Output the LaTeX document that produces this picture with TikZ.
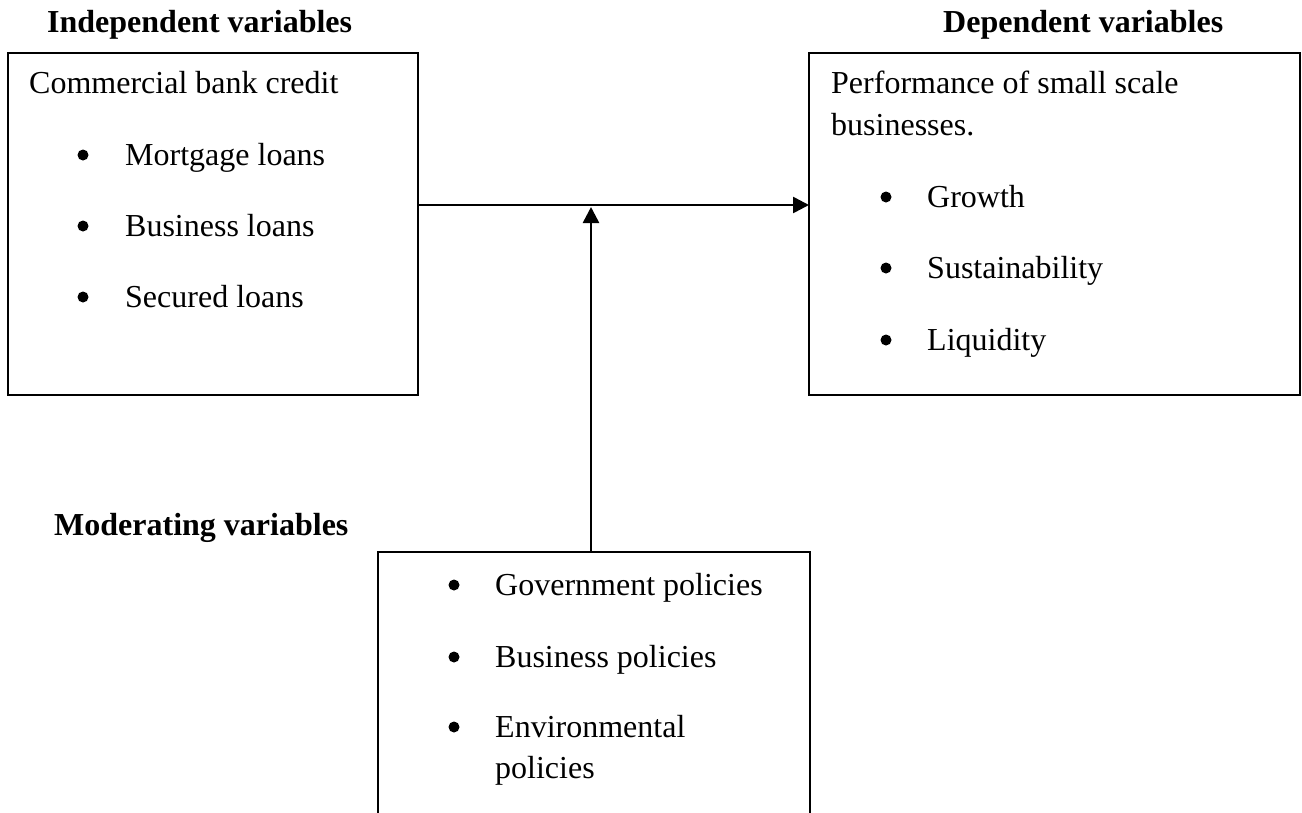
\documentclass[tikz,border=0pt]{standalone}
\usepackage{fontspec}
\setmainfont{Liberation Serif}
\usetikzlibrary{arrows.meta}
\begin{document}
\begin{tikzpicture}[x=1pt,y=-1pt,
  box/.style={draw, line width=2.6pt, rectangle, inner sep=0pt, outer sep=0pt, anchor=north west},
  txt/.style={inner sep=0pt, anchor=base west, font=\fontsize{32}{38}\selectfont},
  head/.style={inner sep=0pt, anchor=base west, font=\fontsize{32}{38}\selectfont\bfseries},
  dot/.style={circle, fill, inner sep=0pt, minimum size=11pt},
  link/.style={line width=2.6pt, -{Triangle[length=16pt,width=16pt]}}]
\useasboundingbox (0,0) rectangle (1302,812);
\clip (0,0) rectangle (1302,812);

% headings
\node[head] (hind) at (47,32) {Independent variables};
\node[head] (hdep) at (943,32) {Dependent variables};
\node[head] (hmod) at (54,535) {Moderating variables};

% boxes
\node[box, minimum width=410pt, minimum height=342pt] (ind) at (8,53) {};
\node[box, minimum width=491pt, minimum height=342pt] (dep) at (809,53) {};
\node[box, minimum width=432pt, minimum height=320pt] (mod) at (378,552) {};

% independent variables
\node[txt] (t1) at (29,93) {Commercial bank credit};
\node[dot] (b1) at (83,155) {};
\node[txt] (t2) at (125,165) {Mortgage loans};
\node[dot] (b2) at (83,226) {};
\node[txt] (t3) at (125,236) {Business loans};
\node[dot] (b3) at (83,297) {};
\node[txt] (t4) at (125,307) {Secured loans};

% dependent variables
\node[txt] (d1) at (831,93) {Performance of small scale};
\node[txt] (d2) at (831,135) {businesses.};
\node[dot] (c1) at (886,197) {};
\node[txt] (d3) at (927,207) {Growth};
\node[dot] (c2) at (886,268) {};
\node[txt] (d4) at (927,278) {Sustainability};
\node[dot] (c3) at (886,340) {};
\node[txt] (d5) at (927,350) {Liquidity};

% moderating variables
\node[dot] (e1) at (454,585) {};
\node[txt] (m1) at (495,595) {Government policies};
\node[dot] (e2) at (454,657) {};
\node[txt] (m2) at (495,667) {Business policies};
\node[dot] (e3) at (454,727) {};
\node[txt] (m3) at (495,737) {Environmental};
\node[txt] (m4) at (495,778) {policies};

% connectors
\coordinate (j) at (591,205);
\coordinate (jt) at (591,207);
\draw[link] (ind.east |- j) -- (dep.west |- j);
\draw[link] (mod.north -| j) -- (jt);
\end{tikzpicture}
\end{document}
